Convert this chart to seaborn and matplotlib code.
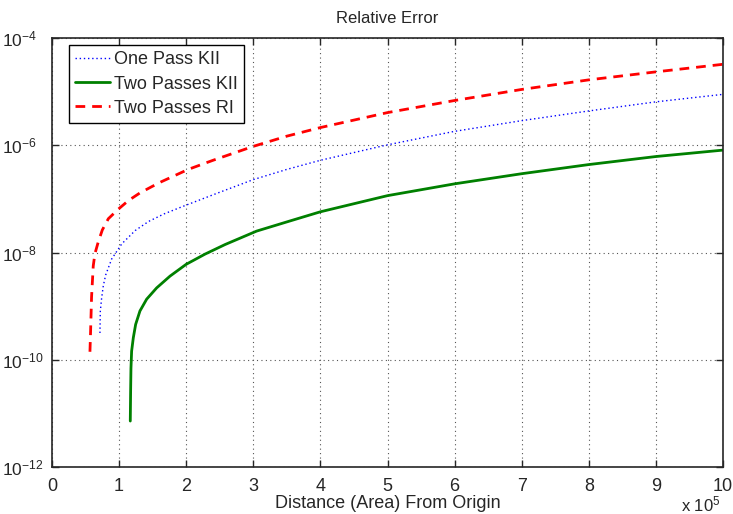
import numpy as np
import pandas as pd
import matplotlib
matplotlib.use("Agg")
import matplotlib.pyplot as plt
import seaborn as sns

# Data (x in units of 1e5)
x_one = [0.715, 0.72, 0.74, 0.765, 0.80, 0.89, 1.04, 1.24, 1.44, 1.67, 1.95, 2.45,
         3, 3.5, 4, 5, 6, 7, 8, 9, 10]
y_one = [3.16e-10, 7.94e-10, 1.41e-9, 2.40e-9, 3.80e-9, 7.59e-9, 1.45e-8, 2.57e-8, 3.80e-8,
         5.25e-8, 7.24e-8, 1.26e-7, 2.29e-7, 3.55e-7, 5.25e-7, 1.02e-6, 1.82e-6, 2.88e-6,
         4.37e-6, 6.46e-6, 8.91e-6]

x_two = [1.167, 1.172, 1.177, 1.187, 1.212, 1.247, 1.311, 1.411, 1.56, 1.759, 2.0, 2.28,
         2.58, 3.05, 3.55, 4, 5, 6, 7, 8, 9, 10]
y_two = [7.2e-12, 2.57e-11, 6.9e-11, 1.45e-10, 2.57e-10, 4.57e-10, 8.13e-10, 1.35e-9, 2.19e-9,
         3.63e-9, 6.03e-9, 9.33e-9, 1.41e-8, 2.51e-8, 3.89e-8, 5.75e-8, 1.15e-7, 1.91e-7,
         2.95e-7, 4.37e-7, 6.17e-7, 8.13e-7]

x_ri = [0.566, 0.576, 0.59, 0.615, 0.64, 0.69, 0.75, 0.84, 0.99, 1.14, 1.31, 1.49, 1.63,
        2.03, 2.40, 3, 3.5, 4, 5, 6, 7, 8, 9, 10]
y_ri = [1.41e-10, 3.55e-10, 1.48e-9, 5.6e-9, 9.5e-9, 1.58e-8, 2.63e-8, 4.27e-8, 6.46e-8,
        9.33e-8, 1.29e-7, 1.70e-7, 2.09e-7, 3.55e-7, 5.25e-7, 9.55e-7, 1.48e-6, 2.14e-6,
        4.07e-6, 6.84e-6, 1.10e-5, 1.66e-5, 2.34e-5, 3.24e-5]

labels = ["One Pass KII", "Two Passes KII", "Two Passes RI"]
xticks = list(range(0, 11))
yticks = [1e-12, 1e-10, 1e-8, 1e-6, 1e-4]

sns.set_style("ticks")
plt.rcParams["font.family"] = ["Liberation Sans", "DejaVu Sans"]
plt.rcParams["mathtext.fontset"] = "custom"
plt.rcParams["mathtext.rm"] = "Liberation Sans"
plt.rcParams["mathtext.it"] = "Liberation Sans:italic"

fig = plt.figure(figsize=(7.33, 5.14), dpi=100)
ax = fig.add_axes([0.0709, 0.0914, 0.9155, 0.8346])

sns.lineplot(x=x_one, y=y_one, ax=ax, estimator=None, sort=False, color=(0, 0, 1),
             linestyle=(0, (1, 2)), linewidth=1.0, label=labels[0])
sns.lineplot(x=x_two, y=y_two, ax=ax, estimator=None, sort=False, color=(0, 0.5, 0),
             linestyle="-", linewidth=2.0, label=labels[1])
sns.lineplot(x=x_ri, y=y_ri, ax=ax, estimator=None, sort=False, color=(1, 0, 0),
             linestyle=(0, (3.5, 2.5)), linewidth=2.0, label=labels[2])

ax.set_yscale("log")
ax.set_xlim(0, 10)
ax.set_ylim(1e-12, 1e-4)
ax.set_xticks(xticks)
ax.set_xticklabels([str(t) for t in xticks])
ax.set_yticks(yticks)
ax.yaxis.set_minor_locator(matplotlib.ticker.NullLocator())
ax.tick_params(direction="in", length=5, width=1, top=True, right=True, labelsize=13)
ax.tick_params(axis="x", pad=8)
ax.tick_params(axis="y", pad=36, labelsize=12.5)
for lab in ax.get_yticklabels():
    lab.set_horizontalalignment("left")
ax.grid(True, which="major", linestyle=(0, (1, 3)), color="#555555", linewidth=0.8)
for s in ax.spines.values():
    s.set_linewidth(1.2)
    s.set_visible(True)

ax.set_title("Relative Error", fontsize=12, pad=11)
ax.set_xlabel("Distance (Area) From Origin", fontsize=13, labelpad=0)
ax.set_ylabel("")
fig.text(0.983, 0.005, r"x 10$^{5}$", ha="right", va="baseline", fontsize=12)

leg = ax.legend(loc="upper left", bbox_to_anchor=(0.0253, 0.9837), borderaxespad=0,
                fontsize=13, frameon=True, fancybox=False,
                edgecolor="black", framealpha=1, handlelength=1.95, handletextpad=0.2,
                labelspacing=0.4, borderpad=0.35)
leg.get_frame().set_linewidth(1.0)

fig.savefig("out.png", dpi=100)
